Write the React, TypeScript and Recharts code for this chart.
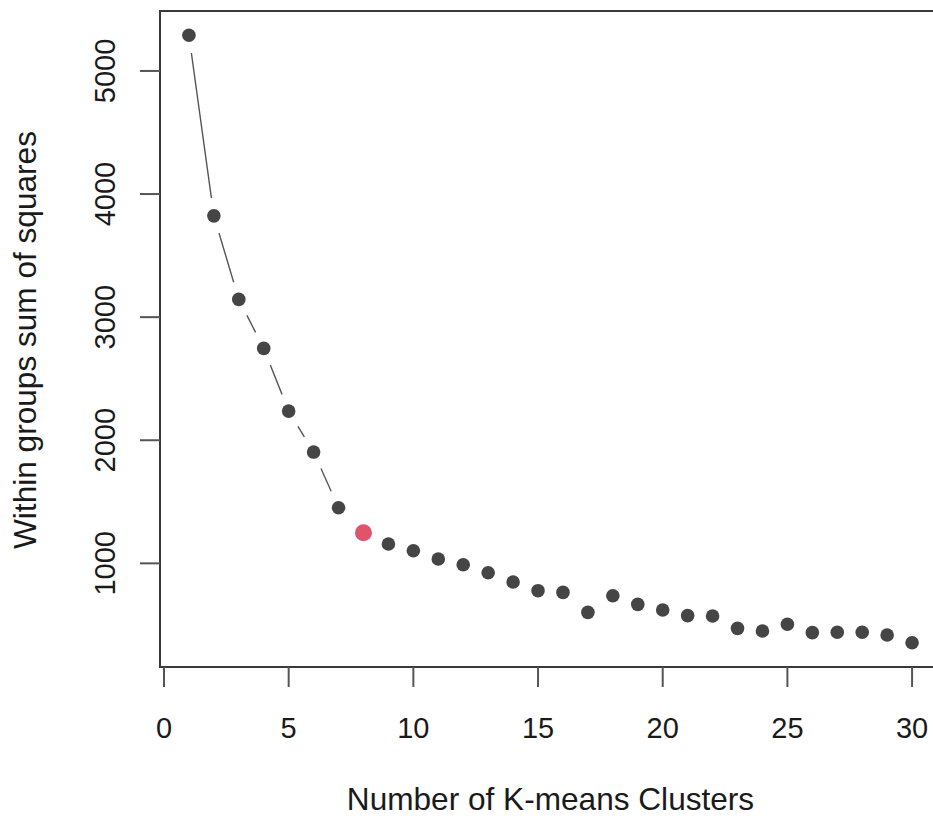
import React from 'react';
import { LineChart, Line, XAxis, YAxis, ReferenceArea } from 'recharts';

const clusters = [1, 2, 3, 4, 5, 6, 7, 8, 9, 10, 11, 12, 13, 14, 15, 16, 17, 18, 19, 20, 21, 22, 23, 24, 25, 26, 27, 28, 29, 30];
const wss = [5290, 3823, 3144, 2746, 2237, 1904, 1452, 1249, 1157, 1102, 1035, 989, 924, 848, 778, 764, 602, 737, 667, 621, 575, 572, 472, 450, 505, 437, 440, 440, 418, 355];
const xTicks = [0, 5, 10, 15, 20, 25, 30];
const yTicks = [1000, 2000, 3000, 4000, 5000];
const highlightK = 8;
const xTitle = 'Number of K-means Clusters';
const yTitle = 'Within groups sum of squares';

const data = clusters.map((k, i) => ({ k, wss: wss[i] }));

const FONT = '"Liberation Sans", Arial, Helvetica, sans-serif';
const TEXT = '#1a1a1a';

const XTick = (props: any) => {
  const { x, y, payload } = props;
  return (
    <text x={x} y={y + 50.5} textAnchor="middle" fontFamily={FONT} fontSize={29} fill={TEXT}>
      {payload.value}
    </text>
  );
};

const YTick = (props: any) => {
  const { x, y, payload } = props;
  return (
    <text
      x={0}
      y={0}
      transform={`translate(${x - 25},${y}) rotate(-90)`}
      textAnchor="middle"
      fontFamily={FONT}
      fontSize={29}
      fill={TEXT}
    >
      {payload.value}
    </text>
  );
};

const HaloDot = (props: any) => {
  const { cx, cy, index } = props;
  if (cx == null || cy == null) return <g key={`h${index}`} />;
  return <circle key={`h${index}`} cx={cx} cy={cy} r={18} fill="#ffffff" stroke="none" />;
};

const PointDot = (props: any) => {
  const { cx, cy, index, payload } = props;
  if (cx == null || cy == null) return <g key={`p${index}`} />;
  const hi = payload.k === highlightK;
  return (
    <circle
      key={`p${index}`}
      cx={cx}
      cy={cy}
      r={hi ? 8.5 : 6.8}
      fill={hi ? '#DF536B' : '#454545'}
      stroke="none"
    />
  );
};

const XLabel = (props: any) => {
  const vb = props.viewBox || {};
  const cx = vb.x + vb.width / 2;
  return (
    <text x={cx} y={810} textAnchor="middle" fontFamily={FONT} fontSize={31.6} fill={TEXT}>
      {xTitle}
    </text>
  );
};

const YLabel = () => {
  const cy = 11 + 656 / 2 + 1;
  return (
    <text
      x={0}
      y={0}
      transform={`translate(36,${cy}) rotate(-90)`}
      textAnchor="middle"
      fontFamily={FONT}
      fontSize={31.6}
      fill={TEXT}
    >
      {yTitle}
    </text>
  );
};

export default function App() {
  return (
    <div style={{ position: 'absolute', left: 0, top: 0, width: 933, height: 821, overflow: 'hidden', background: '#fff' }}>
      <LineChart width={945} height={821} data={data} margin={{ top: 11, right: 4, bottom: 0, left: 0 }}>
        <XAxis
          dataKey="k"
          type="number"
          domain={[-0.16, 31.16]}
          ticks={xTicks}
          allowDataOverflow
          height={154}
          axisLine={false}
          tickLine={{ stroke: '#555', strokeWidth: 2 }}
          tickSize={20}
          tickMargin={0}
          tick={<XTick />}
          interval={0}
          label={<XLabel />}
        />
        <YAxis
          type="number"
          domain={[158, 5487]}
          ticks={yTicks}
          allowDataOverflow
          width={160}
          axisLine={false}
          tickLine={{ stroke: '#555', strokeWidth: 2 }}
          tickSize={20}
          tickMargin={0}
          tick={<YTick />}
          interval={0}
          label={<YLabel />}
        />
        <ReferenceArea
          x1={-0.16}
          x2={31.16}
          y1={158}
          y2={5487}
          fill="none"
          fillOpacity={0}
          stroke="#3a3a3a"
          strokeWidth={2}
          ifOverflow="visible"
        />
        <Line dataKey="wss" stroke="#555" strokeWidth={1.4} dot={false} activeDot={false} isAnimationActive={false} />
        <Line dataKey="wss" stroke="none" dot={<HaloDot />} activeDot={false} isAnimationActive={false} />
        <Line dataKey="wss" stroke="none" dot={<PointDot />} activeDot={false} isAnimationActive={false} />
      </LineChart>
    </div>
  );
}
